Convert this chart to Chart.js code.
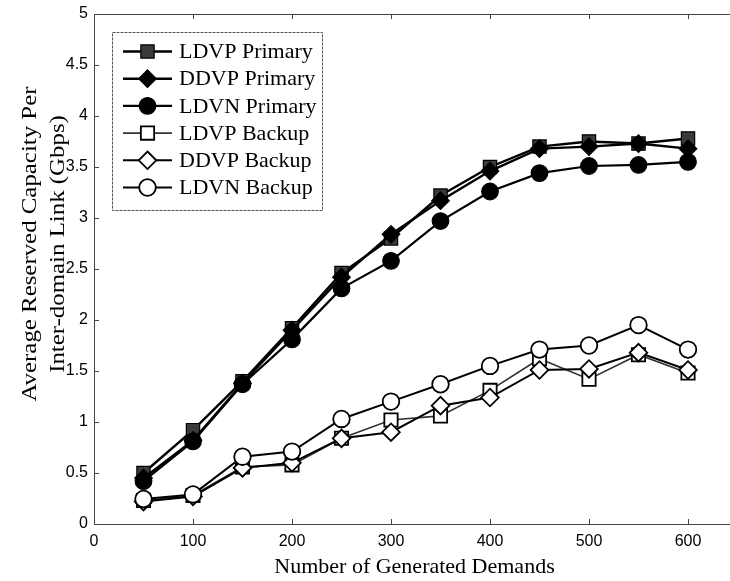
<!DOCTYPE html>
<html>
<head>
<meta charset="utf-8">
<script src="https://cdn.jsdelivr.net/npm/chart.js@4.4.0/dist/chart.umd.min.js"></script>
<style>
  html, body { margin: 0; padding: 0; background: #fff; overflow: hidden; width: 730px; height: 581px; }
  #wrap { position: absolute; left: 0; top: 0; width: 740px; height: 581px; }
</style>
</head>
<body>
<div id="wrap"><canvas id="c" width="740" height="581"></canvas></div>
<script>
// Number of generated demands (x) and reserved capacity (Gbps) per series
const demands = [50, 100, 150, 200, 250, 300, 350, 400, 450, 500, 550, 600];
const ldvpPrimary = [0.50, 0.92, 1.40, 1.92, 2.46, 2.80, 3.22, 3.50, 3.70, 3.75, 3.73, 3.78];
const ddvpPrimary = [0.45, 0.82, 1.38, 1.90, 2.42, 2.84, 3.17, 3.46, 3.68, 3.70, 3.73, 3.68];
const ldvnPrimary = [0.42, 0.81, 1.37, 1.81, 2.31, 2.58, 2.97, 3.26, 3.44, 3.51, 3.52, 3.55];
const ldvpBackup  = [0.23, 0.28, 0.56, 0.58, 0.84, 1.02, 1.06, 1.31, 1.62, 1.42, 1.66, 1.48];
const ddvpBackup  = [0.22, 0.27, 0.55, 0.60, 0.84, 0.90, 1.16, 1.24, 1.51, 1.52, 1.68, 1.51];
const ldvnBackup  = [0.245, 0.29, 0.66, 0.71, 1.03, 1.20, 1.37, 1.55, 1.71, 1.75, 1.95, 1.71];

const seriesNames = ['LDVP Primary', 'DDVP Primary', 'LDVN Primary', 'LDVP Backup', 'DDVP Backup', 'LDVN Backup'];
const xTicks = [0, 100, 200, 300, 400, 500, 600];
const yTicks = [0, 0.5, 1, 1.5, 2, 2.5, 3, 3.5, 4, 4.5, 5];
const xTitle = 'Number of Generated Demands';
const yTitle = ['Average Reserved Capacity Per', 'Inter-domain Link (Gbps)'];

const SERIF = '"Liberation Serif", "Times New Roman", serif';
const SANS = '"Liberation Sans", Arial, sans-serif';

const styles = [
  { pointStyle: 'rect',    radius: 9.4, fill: '#3a3a3a', line: '#000', lw: 2.4, bw: 1.2 },
  { pointStyle: 'rectRot', radius: 8.8, fill: '#000',    line: '#000', lw: 2.4, bw: 1.2 },
  { pointStyle: 'circle',  radius: 8.3, fill: '#000',    line: '#000', lw: 2.2, bw: 1.2 },
  { pointStyle: 'rect',    radius: 9.4, fill: '#fff',    line: '#333', lw: 1.6, bw: 1.8 },
  { pointStyle: 'rectRot', radius: 8.8, fill: '#fff',    line: '#000', lw: 2.0, bw: 1.8 },
  { pointStyle: 'circle',  radius: 8.3, fill: '#fff',    line: '#000', lw: 2.0, bw: 1.8 }
];
const seriesValues = [ldvpPrimary, ddvpPrimary, ldvnPrimary, ldvpBackup, ddvpBackup, ldvnBackup];

const datasets = seriesValues.map((vals, i) => ({
  label: seriesNames[i],
  data: demands.map((d, k) => ({ x: d, y: vals[k] })),
  borderColor: styles[i].line,
  borderWidth: styles[i].lw,
  pointStyle: styles[i].pointStyle,
  pointRadius: styles[i].radius,
  pointBackgroundColor: styles[i].fill,
  pointBorderColor: '#000',
  pointBorderWidth: styles[i].bw,
  tension: 0,
  fill: false,
  order: seriesValues.length - 1 - i
}));

function marker(ctx, style, r, x, y, fill, bw) {
  ctx.save();
  ctx.beginPath();
  if (style === 'circle') {
    ctx.arc(x, y, r, 0, Math.PI * 2);
  } else if (style === 'rect') {
    const s = r * Math.SQRT1_2;
    ctx.rect(x - s, y - s, 2 * s, 2 * s);
  } else {
    ctx.moveTo(x, y - r); ctx.lineTo(x + r, y); ctx.lineTo(x, y + r); ctx.lineTo(x - r, y); ctx.closePath();
  }
  ctx.fillStyle = fill; ctx.fill();
  ctx.lineWidth = bw; ctx.strokeStyle = '#000'; ctx.stroke();
  ctx.restore();
}

// Box frame with inward tick marks, drawn under the data
const framePlugin = {
  id: 'frame',
  beforeDatasetsDraw(chart) {
    const { ctx, chartArea: a, scales } = chart;
    ctx.save();
    ctx.strokeStyle = '#444';
    ctx.lineWidth = 1;
    ctx.strokeRect(a.left + 0.5, a.top + 0.5, a.right - a.left, a.bottom - a.top);
    ctx.beginPath();
    xTicks.forEach(v => {
      const px = Math.round(scales.x.getPixelForValue(v)) + 0.5;
      ctx.moveTo(px, a.bottom); ctx.lineTo(px, a.bottom - 5);
      ctx.moveTo(px, a.top); ctx.lineTo(px, a.top + 5);
    });
    yTicks.forEach(v => {
      const py = Math.round(scales.y.getPixelForValue(v)) + 0.5;
      ctx.moveTo(a.left, py); ctx.lineTo(a.left + 5, py);
      ctx.moveTo(a.right, py); ctx.lineTo(a.right - 5, py);
    });
    ctx.stroke();
    ctx.restore();
  },
  afterDraw(chart) {
    const { ctx } = chart;
    ctx.save();
    ctx.fillStyle = '#000';
    // x-axis title
    ctx.font = '22px ' + SERIF;
    ctx.textAlign = 'center';
    ctx.textBaseline = 'alphabetic';
    ctx.fillText(xTitle, 414.5, 572.5);
    // y-axis title, two rotated lines
    const lineX = [30, 58];
    yTitle.forEach((t, i) => {
      ctx.save();
      ctx.translate(lineX[i], 244);
      ctx.rotate(-Math.PI / 2);
      ctx.scale(1.13, 1);
      ctx.textBaseline = 'middle';
      ctx.fillText(t, 0, 0);
      ctx.restore();
    });
    // legend box
    const L = 112, T = 32, R = 322, B = 210;
    ctx.fillStyle = '#fff';
    ctx.fillRect(L, T, R - L, B - T);
    ctx.strokeStyle = '#555';
    ctx.lineWidth = 1;
    ctx.setLineDash([3, 1]);
    ctx.strokeRect(L + 0.5, T + 0.5, R - L, B - T);
    ctx.setLineDash([]);
    ctx.font = '22px ' + SERIF;
    ctx.textAlign = 'left';
    ctx.textBaseline = 'middle';
    seriesNames.forEach((name, i) => {
      const y = 51.5 + 27.2 * i;
      const s = styles[i];
      ctx.strokeStyle = s.line;
      ctx.lineWidth = s.lw;
      ctx.beginPath(); ctx.moveTo(123, y); ctx.lineTo(172, y); ctx.stroke();
      marker(ctx, s.pointStyle, s.radius, 147.5, y, s.fill, s.bw);
      ctx.fillStyle = '#000';
      ctx.fillText(name, 179, y + 1);
    });
    ctx.restore();
  }
};

new Chart(document.getElementById('c'), {
  type: 'line',
  data: { datasets },
  options: {
    responsive: false,
    animation: false,
    events: [],
    layout: { autoPadding: false, padding: { top: 14, right: 2.5, left: 0, bottom: 0 } },
    plugins: { legend: { display: false }, tooltip: { enabled: false } },
    scales: {
      x: {
        type: 'linear',
        min: 0, max: 650,
        afterBuildTicks: s => { s.ticks = xTicks.map(v => ({ value: v })); },
        afterFit: s => { s.height = 57; s.paddingLeft = 0; s.paddingRight = 0; },
        grid: { display: false, drawTicks: false, tickLength: 0 },
        border: { display: false },
        ticks: { padding: 8, color: '#000', font: { family: SANS, size: 16 }, maxRotation: 0, autoSkip: false,
                 callback: v => String(v) }
      },
      y: {
        type: 'linear',
        min: 0, max: 5,
        afterBuildTicks: s => { s.ticks = yTicks.map(v => ({ value: v })); },
        afterFit: s => { s.width = 94; s.paddingTop = 0; s.paddingBottom = 0; },
        grid: { display: false, drawTicks: false, tickLength: 0 },
        border: { display: false },
        ticks: { padding: 6, color: '#000', font: { family: SANS, size: 16 }, autoSkip: false,
                 callback: v => String(v) }
      }
    }
  },
  plugins: [framePlugin]
});
</script>
</body>
</html>
